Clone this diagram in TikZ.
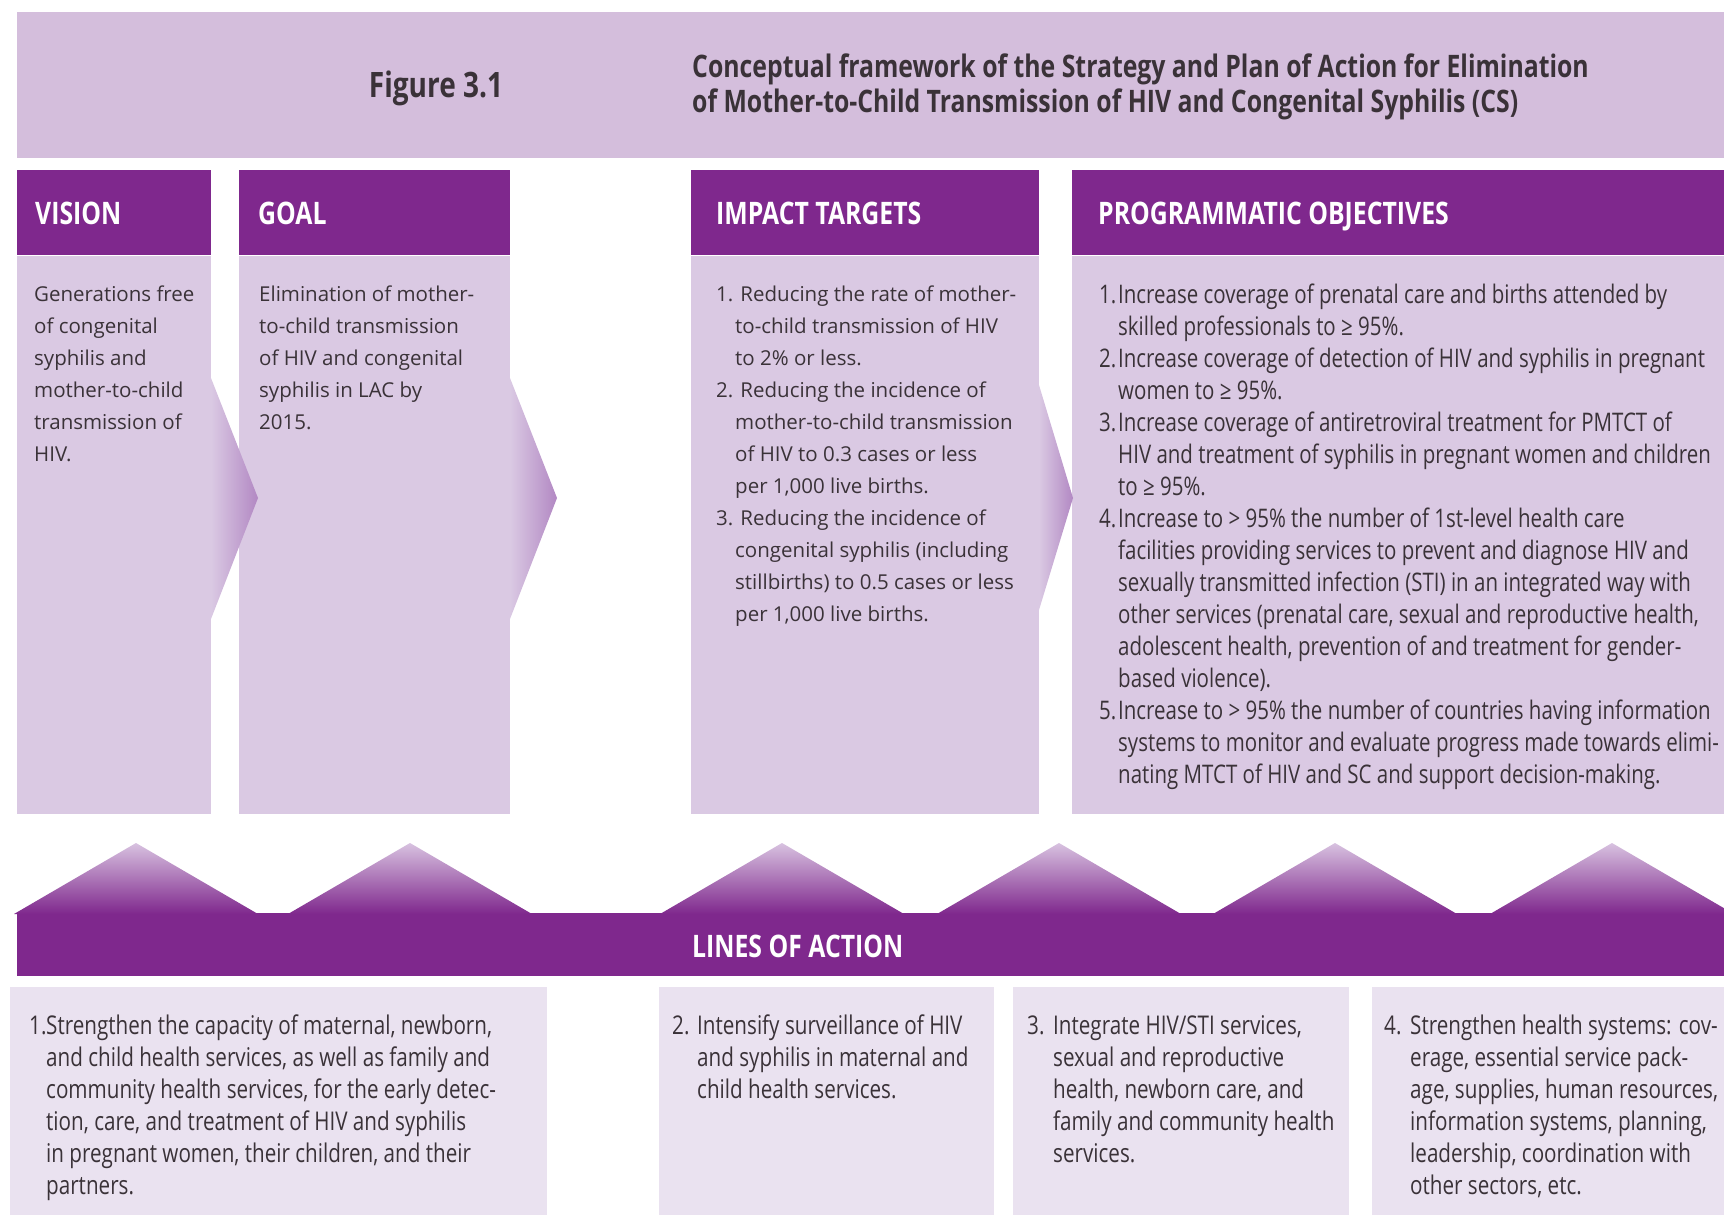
\documentclass[tikz,border=0pt]{standalone}
\usepackage{fontspec}
\setmainfont{Open Sans}
\newfontfamily\condFont{Open Sans}[FakeStretch=0.8]
\usetikzlibrary{positioning}
\definecolor{bandColor}{RGB}{212,190,220}
\definecolor{bodyColor}{RGB}{218,201,227}
\definecolor{headColor}{RGB}{127,40,141}
\definecolor{lowColor}{RGB}{234,226,240}
\definecolor{peakColor}{RGB}{216,194,224}
\definecolor{tipColor}{RGB}{178,136,195}
\definecolor{textColor}{RGB}{58,50,56}
\tikzstyle{plan} = [x = 1pt, y = -1pt]
\tikzstyle{titleText} = [font=\condFont\bfseries\fontsize{31}{35}\selectfont, text=textColor, inner sep=0]
\tikzstyle{headText} = [font=\condFont\bfseries\fontsize{31}{35}\selectfont, text=white, inner sep=0, anchor=base west]
\tikzstyle{bodyText} = [font=\fontsize{20.5}{32}\selectfont, text=textColor, inner sep=0, anchor=north west, align=left]
\tikzstyle{objText} = [font=\condFont\fontsize{25.6}{32}\selectfont, text=textColor, inner sep=0, anchor=north west, align=left]
\tikzstyle{actionText} = [font=\condFont\fontsize{25.8}{32}\selectfont, text=textColor, inner sep=0, anchor=north west, align=left]
\newcommand{\num}[2]{\makebox[#1][l]{#2}}
\newcommand{\indentBy}[1]{\hspace*{#1}}
\newcommand{\conceptColumn}[2]{
  \fill [headColor] (#1,170) rectangle (#2,255);
  \fill [bodyColor] (#1,256) rectangle (#2,814);
}
\newcommand{\chevron}[4]{\shade [left color=bodyColor, right color=tipColor] (#1,#3) -- (#2,498) -- (#1,#4) -- cycle;}
\newcommand{\mountain}[1]{\shade [top color=peakColor, bottom color=headColor] (#1 - 122, 914) -- (#1, 843) -- (#1 + 122, 914) -- cycle;}
\newcommand{\actionBox}[2]{\fill [lowColor] (#1,987) rectangle (#2,1215);}

\begin{document}
\begin{tikzpicture}[plan]
  \useasboundingbox (0,0) rectangle (1724,1215);
  % title band
  \fill [bandColor] (17,12) rectangle (1724,158);
  \node [titleText, font=\condFont\bfseries\fontsize{35}{35}\selectfont, anchor=base] (figLabel) at (436,97) {Figure 3.1};
  \node [titleText, anchor=north west, align=left] (figTitle) at (692,54) {Conceptual framework of the Strategy and Plan of Action for Elimination\\of Mother-to-Child Transmission of HIV and Congenital Syphilis (CS)};

  % columns
  \conceptColumn{17}{211}
  \conceptColumn{239}{510}
  \conceptColumn{691}{1039}
  \conceptColumn{1072}{1724}
  \chevron{211}{258}{378}{619}
  \chevron{510}{557}{378}{619}
  \chevron{1039}{1073}{385}{610}

  \node [headText] (visionHead) at (35,224) {VISION};
  \node [headText] (goalHead) at (258,224) {GOAL};
  \node [headText] (impactHead) at (716,224) {IMPACT TARGETS};
  \node [headText] (objHead) at (1098,224) {PROGRAMMATIC OBJECTIVES};

  \node [bodyText] (visionBody) at (34,286) {Generations free\\of congenital\\syphilis and\\mother-to-child\\transmission of\\HIV.};
  \node [bodyText] (goalBody) at (259,286) {Elimination of mother-\\to-child transmission\\of HIV and congenital\\syphilis in LAC by\\2015.};
  \node [bodyText] (impactBody) at (716,286) {1. Reducing the rate of mother-\\\indentBy{19pt}to-child transmission of HIV\\\indentBy{19pt}to 2\% or less.\\2. Reducing the incidence of\\\indentBy{19pt}mother-to-child transmission\\\indentBy{19pt}of HIV to 0.3 cases or less\\\indentBy{19pt}per 1,000 live births.\\3. Reducing the incidence of\\\indentBy{19pt}congenital syphilis (including\\\indentBy{19pt}stillbirths) to 0.5 cases or less\\\indentBy{19pt}per 1,000 live births.};
  \node [objText] (objBody) at (1099,284) {\num{19pt}{1.}Increase coverage of prenatal care and births attended by\\\indentBy{19pt}skilled professionals to ≥ 95\%.\\\num{19pt}{2.}Increase coverage of detection of HIV and syphilis in pregnant\\\indentBy{19pt}women to ≥ 95\%.\\\num{19pt}{3.}Increase coverage of antiretroviral treatment for PMTCT of\\\indentBy{19pt}HIV and treatment of syphilis in pregnant women and children\\\indentBy{19pt}to ≥ 95\%.\\\num{19pt}{4.}Increase to > 95\% the number of 1st-level health care\\\indentBy{19pt}facilities providing services to prevent and diagnose HIV and\\\indentBy{19pt}sexually transmitted infection (STI) in an integrated way with\\\indentBy{19pt}other services (prenatal care, sexual and reproductive health,\\\indentBy{19pt}adolescent health, prevention of and treatment for gender-\\\indentBy{19pt}based violence).\\\num{19pt}{5.}Increase to > 95\% the number of countries having information\\\indentBy{19pt}systems to monitor and evaluate progress made towards elimi-\\\indentBy{19pt}nating MTCT of HIV and SC and support decision-making.};

  % lines of action
  \fill [headColor] (17,913) rectangle (1724,976);
  \foreach \peak in {136,410,782,1059,1335,1612} {
    \mountain{\peak}
  }
  \node [headText] (actionHead) at (692,957) {LINES OF ACTION};

  \actionBox{10}{547}
  \actionBox{659}{994}
  \actionBox{1013}{1349}
  \actionBox{1372}{1724}
  \node [actionText] (actionOne) at (29,1015) {\num{17pt}{1.}Strengthen the capacity of maternal, newborn,\\\indentBy{17pt}and child health services, as well as family and\\\indentBy{17pt}community health services, for the early detec-\\\indentBy{17pt}tion, care, and treatment of HIV and syphilis\\\indentBy{17pt}in pregnant women, their children, and their\\\indentBy{17pt}partners.};
  \node [actionText] (actionTwo) at (672,1015) {\num{25pt}{2.}Intensify surveillance of HIV\\\indentBy{25pt}and syphilis in maternal and\\\indentBy{25pt}child health services.};
  \node [actionText] (actionThree) at (1027,1015) {\num{26pt}{3.}Integrate HIV/STI services,\\\indentBy{26pt}sexual and reproductive\\\indentBy{26pt}health, newborn care, and\\\indentBy{26pt}family and community health\\\indentBy{26pt}services.};
  \node [actionText] (actionFour) at (1384,1015) {\num{26pt}{4.}Strengthen health systems: cov-\\\indentBy{26pt}erage, essential service pack-\\\indentBy{26pt}age, supplies, human resources,\\\indentBy{26pt}information systems, planning,\\\indentBy{26pt}leadership, coordination with\\\indentBy{26pt}other sectors, etc.};
\end{tikzpicture}
\end{document}
